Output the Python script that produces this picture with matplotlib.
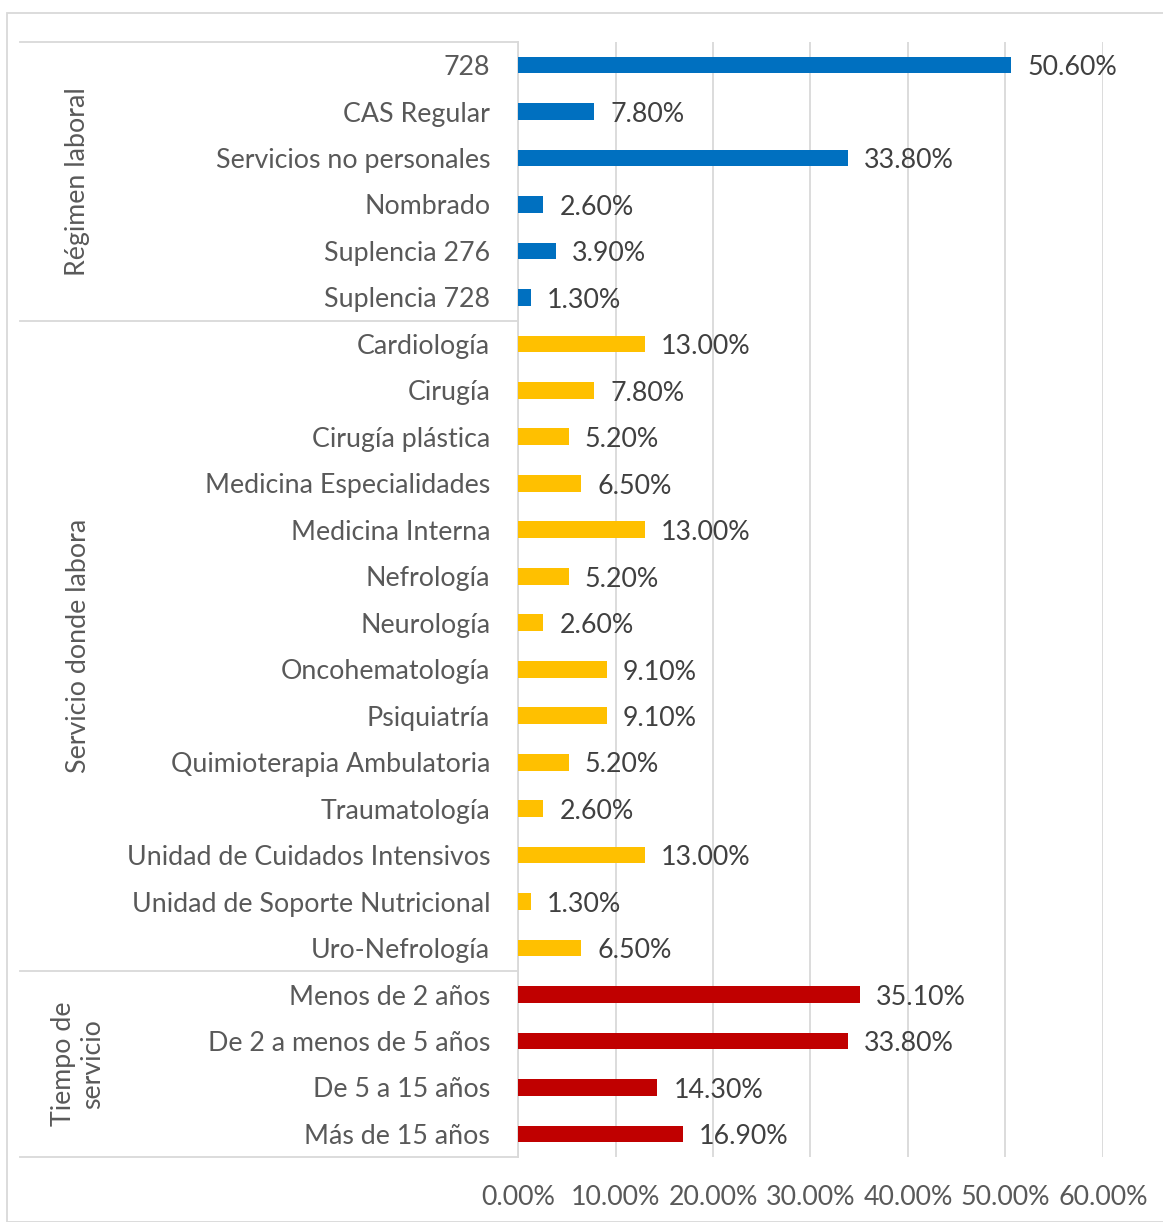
import matplotlib
matplotlib.use('Agg')
import matplotlib.pyplot as plt
import matplotlib.transforms as mtransforms
from matplotlib.patches import Rectangle

plt.rcParams['font.family'] = ['Lato', 'DejaVu Sans']

# Data (percent)
regimen_labels = ['728', 'CAS Regular', 'Servicios no personales', 'Nombrado',
                  'Suplencia 276', 'Suplencia 728']
regimen_values = [50.6, 7.8, 33.8, 2.6, 3.9, 1.3]

servicio_labels = ['Cardiología', 'Cirugía', 'Cirugía plástica', 'Medicina Especialidades',
                   'Medicina Interna', 'Nefrología', 'Neurología', 'Oncohematología',
                   'Psiquiatría', 'Quimioterapia Ambulatoria', 'Traumatología',
                   'Unidad de Cuidados Intensivos', 'Unidad de Soporte Nutricional',
                   'Uro-Nefrología']
servicio_values = [13.0, 7.8, 5.2, 6.5, 13.0, 5.2, 2.6, 9.1, 9.1, 5.2, 2.6, 13.0, 1.3, 6.5]

tiempo_labels = ['Menos de 2 años', 'De 2 a menos de 5 años', 'De 5 a 15 años', 'Más de 15 años']
tiempo_values = [35.1, 33.8, 14.3, 16.9]

group_names = ['Régimen laboral', 'Servicio donde labora', 'Tiempo de\nservicio']
group_colors = ['#0070C0', '#FFC000', '#C00000']
x_ticks = [0, 10, 20, 30, 40, 50, 60]

W, H = 1163, 1222
FS = 19.3
fig = plt.figure(figsize=(W / 100, H / 100), dpi=100)
fig.patch.set_facecolor('white')

# chart area border (cropped on the right/bottom like the original)
fig.patches.append(Rectangle((7 / W, 0), 1.2, 1 - 13 / H, transform=fig.transFigure,
                             fill=False, edgecolor='#d9d9d9', lw=1.3, clip_on=False))

ax = fig.add_axes([518 / W, 1 - 1157.2 / H, (1103 - 518) / W, (1157.2 - 41.8) / H])

groups = [(regimen_labels, regimen_values), (servicio_labels, servicio_values),
          (tiempo_labels, tiempo_values)]

labels, values, colors, bounds = [], [], [], []
for (labs, vals), col in zip(groups, group_colors):
    start = len(labels)
    labels += labs
    values += vals
    colors += [col] * len(vals)
    bounds.append((start, len(labels)))

ypos = list(range(len(labels)))
ax.barh(ypos, values, height=0.36, color=colors, zorder=3)

for y, v in zip(ypos, values):
    ax.text(v + 1.65, y + 0.06, f'{v:.2f}%', va='center', ha='left',
            fontsize=FS, color='#404040', zorder=4)

ax.set_xlim(0, 60)
ax.set_ylim(len(labels) - 0.5, -0.5)
ax.set_yticks(ypos)
ax.set_yticklabels(labels, fontsize=FS, color='#595959')
ax.set_xticks(x_ticks)
ax.set_xticklabels([f'{t:.2f}%' for t in x_ticks], fontsize=FS, color='#595959')
ax.tick_params(axis='y', length=0, pad=20)
ax.tick_params(axis='x', length=0, pad=20)
ax.grid(axis='x', color='#d9d9d9', lw=1.3, zorder=0)
for side in ['top', 'right', 'bottom']:
    ax.spines[side].set_visible(False)
ax.spines['left'].set_color('#d9d9d9')
ax.spines['left'].set_linewidth(1.3)

# group separators and group labels
trans = mtransforms.blended_transform_factory(fig.transFigure, ax.transData)
edges = [-0.5] + [b[1] - 0.5 for b in bounds]
for e in edges:
    ax.plot([20 / W, 518 / W], [e, e], transform=trans, color='#d9d9d9',
            lw=1.3, clip_on=False)
for (s, e), name in zip(bounds, group_names):
    fig.text(78 / W, (s + e - 1) / 2, name, transform=trans, rotation=90,
             ha='center', va='center', fontsize=FS, color='#595959',
             multialignment='center', linespacing=1.2)

fig.savefig('out.png', dpi=100)
